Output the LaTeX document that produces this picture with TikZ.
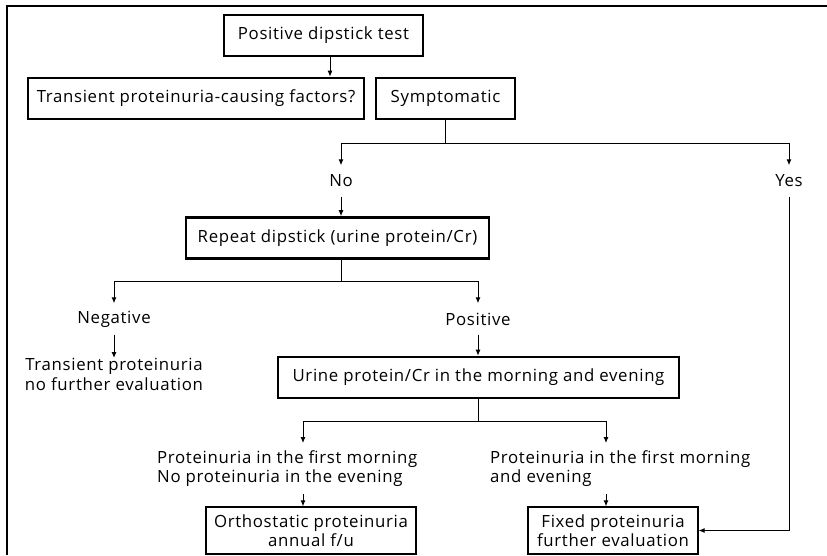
\documentclass[tikz,border=0pt]{standalone}
\usepackage{fontspec}
\setmainfont{Open Sans}[LetterSpace=4]
\usetikzlibrary{positioning, arrows.meta, calc}

\begin{document}
\begin{tikzpicture}[
    x=1pt, y=-1pt,
    font=\fontsize{16.8}{19.6}\selectfont,
    block/.style={rectangle, draw=black, line width=2.6pt, minimum height=41pt, inner sep=0pt, align=center},
    result/.style={rectangle, draw=black, line width=1.2pt, minimum height=47pt, inner sep=0pt, align=center},
    branch/.style={inner sep=0pt, minimum height=31pt},
    note/.style={inner xsep=0pt, inner ysep=7pt, align=left},
    link/.style={line width=1pt},
    arrow/.style={-{Latex[length=6pt, width=5pt]}, line width=1pt}
]
    \useasboundingbox (0,0) rectangle (827,555);

    % Frame
    \draw[line width=1.4pt] (827,6) -- (7,6) -- (7,555);

    % Top boxes
    \node[block, minimum width=199pt] (pdt) at (323.5,35.5) {Positive dipstick test};
    \node[block, minimum width=336pt] (trans) at (196,98.5) {Transient proteinuria-causing factors?};
    \node[block, minimum width=139pt] (sympt) at (445.5,98.5) {Symptomatic};

    % Symptomatic branches
    \node[branch] (no) at (341,181) {No};
    \node[branch] (yes) at (789,181) {Yes};

    % Repeat test
    \node[block, minimum width=303pt] (rep) at (337.5,238) {Repeat dipstick (urine protein/Cr)};
    \node[branch] (neg) at (114,319) {Negative};
    \node[branch] (pos) at (478,319) {Positive};
    \node[anchor=north, inner sep=0pt, align=center] (transient) at (114,358) {Transient proteinuria\\no further evaluation};

    % Morning and evening
    \node[block, minimum width=401pt] (urine) at (478.5,377.5) {Urine protein/Cr in the morning and evening};
    \node[note, anchor=west] (orthtext) at (157,468.5) {Proteinuria in the first morning\\No proteinuria in the evening};
    \node[note, anchor=west] (fixtext) at (490,468.5) {Proteinuria in the first morning\\and evening};

    % Results
    \node[result, minimum width=210pt] (ortho) at (311,530.5) {Orthostatic proteinuria\\annual f/u};
    \node[result, minimum width=170pt] (fixed) at (613,530.5) {Fixed proteinuria\\further evaluation};

    % Split points
    \coordinate (c1) at (330,0);
    \coordinate (s1) at (445,143);
    \coordinate (s2) at (341,281);
    \coordinate (s3) at (478,421);
    \coordinate (c2) at (303,0);
    \coordinate (c3) at (606,0);

    % Arrows
    \draw[arrow] (pdt.south -| c1) -- (trans.north -| c1);
    \draw[link] (sympt.south -| s1) -- (s1);
    \draw[arrow] (s1) -| (no.north);
    \draw[arrow] (s1) -| (yes.north);
    \draw[arrow] (no.south) -- (rep.north -| no);
    \draw[link] (rep.south -| s2) -- (s2);
    \draw[arrow] (s2) -| (neg.north);
    \draw[arrow] (s2) -| (pos.north);
    \draw[arrow] (neg.south) -- (transient.north);
    \draw[arrow] (pos.south) -- (urine.north -| pos);
    \draw[link] (urine.south -| s3) -- (s3);
    \draw[arrow] (s3) -| (orthtext.north -| c2);
    \draw[arrow] (s3) -| (fixtext.north -| c3);
    \draw[arrow] (orthtext.south -| c2) -- (ortho.north -| c2);
    \draw[arrow] (fixtext.south -| c3) -- (fixed.north -| c3);
    \draw[arrow] (yes.south) |- (fixed.east);

\end{tikzpicture}
\end{document}
